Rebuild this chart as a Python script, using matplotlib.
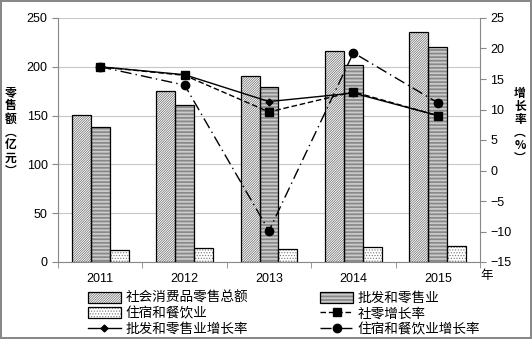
import matplotlib
matplotlib.use("Agg")
import matplotlib.pyplot as plt
import numpy as np
from matplotlib.patches import Patch

plt.rcParams['font.family'] = ['Liberation Sans', 'Noto Sans CJK SC']
plt.rcParams['hatch.linewidth'] = 0.5

years = ['2011', '2012', '2013', '2014', '2015']
total_sales = [151, 175, 191, 216, 236]
wholesale_sales = [138.5, 160.5, 179, 201.5, 220]
accom_sales = [12, 14, 13, 15, 16]
total_rate = [17.0, 15.6, 9.6, 12.9, 9.0]
wholesale_rate = [17.0, 15.7, 11.3, 12.7, 9.0]
accom_rate = [17.0, 14.0, -9.9, 19.3, 11.1]

H_TOTAL = '/' * 14
H_WHOLE = '-' * 12
H_ACCOM = '.' * 6

fig = plt.figure(figsize=(5.32, 3.39), dpi=100)
fig.patch.set_edgecolor('#888888')
fig.patch.set_linewidth(1.5)
ax = fig.add_axes([58/532, 1-262/339, (480-58)/532, (262-18)/339])
ax2 = ax.twinx()

x = np.arange(len(years))
w = 0.225
def hbar(pos, vals, hatch, hc):
    ax.bar(pos, vals, w, color='white', edgecolor=hc, hatch=hatch, linewidth=0, zorder=2)
    return ax.bar(pos, vals, w, fill=False, edgecolor='black', linewidth=0.9, zorder=2.1)

hbar(x - w, total_sales, H_TOTAL, '#666666')
hbar(x, wholesale_sales, H_WHOLE, '#555555')
hbar(x + w, accom_sales, H_ACCOM, '#777777')

p1 = Patch(facecolor='white', edgecolor='#666666', hatch=H_TOTAL, linewidth=0)
p2 = Patch(facecolor='white', edgecolor='#555555', hatch=H_WHOLE, linewidth=0)
p3 = Patch(facecolor='white', edgecolor='#777777', hatch=H_ACCOM, linewidth=0)
po = Patch(fill=False, edgecolor='black', linewidth=0.9)

ax.set_ylim(0, 250)
ax.set_yticks(range(0, 251, 50))
ax.set_xlim(-0.5, 4.5)
ax.set_xticks(x)
ax.set_xticklabels(years, fontsize=9)
ax.set_xticks(np.arange(-0.5, 5, 1), minor=True)
ax.tick_params(axis='x', which='major', length=0, pad=8)
ax.tick_params(axis='x', which='minor', length=4, color='#888888')
ax.tick_params(axis='y', labelsize=9, length=4, color='#888888')
ax.grid(axis='y', color='#c8c8c8', linewidth=0.8, zorder=0)
ax.set_axisbelow(True)
ax.spines['top'].set_visible(False)
ax2.spines['top'].set_visible(False)
for sp in [ax.spines['left'], ax.spines['bottom'], ax2.spines['right']]:
    sp.set_color('#888888')
ax.spines['right'].set_visible(False)
ax2.spines['left'].set_visible(False)
ax2.spines['bottom'].set_visible(False)

ax2.set_ylim(-15, 25)
ax2.set_yticks(range(-15, 26, 5))
ax2.tick_params(axis='y', labelsize=9, length=4, color='#888888')

l1, = ax2.plot(x, total_rate, color='black', linestyle=(0, (4, 2)), linewidth=1.0, marker='s', markersize=6, zorder=3)
l2, = ax2.plot(x, wholesale_rate, color='black', linestyle='-', linewidth=1.0, marker='D', markersize=3.5, zorder=3)
l3, = ax2.plot(x, accom_rate, color='black', linestyle=(0, (8, 3, 1, 3)), linewidth=1.0, marker='o', markersize=6, zorder=3)

cjk = ['Noto Sans CJK SC', 'DejaVu Sans']
fig.text(11/532, 1-132/339, '零\n售\n额\n︵\n亿\n元\n︶', ha='center', va='center', fontsize=8.5,
         fontweight='bold', linespacing=1.0, family=cjk)
fig.text(520/532, 1-126/339, '增\n长\n率\n︵\n%\n︶', ha='center', va='center', fontsize=8.5,
         fontweight='bold', linespacing=1.0, family=cjk)
fig.text(487/532, 1-276/339, '年', ha='center', va='center', fontsize=9)

handles = [(p1, po), (p3, po), l2, (p2, po), l1, l3]
labels = ['社会消费品零售总额', '住宿和餐饮业', '批发和零售业增长率', '批发和零售业', '社零增长率', '住宿和餐饮业增长率']
fig.legend(handles, labels, ncol=2, loc='upper left', bbox_to_anchor=(81/532, 1-284/339),
           frameon=False, fontsize=9.8, handlelength=2.45, handleheight=0.85, columnspacing=5.3,
           labelspacing=0.12, handletextpad=0.3, borderpad=0)

fig.savefig('out.png', dpi=100)
